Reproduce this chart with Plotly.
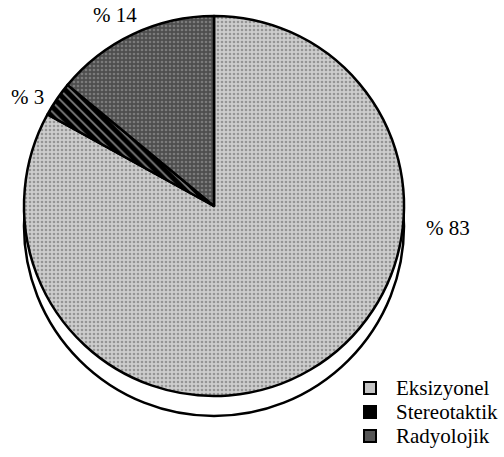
import plotly.graph_objects as go

# Data
labels = ["Eksizyonel", "Stereotaktik", "Radyolojik"]
values = [83, 3, 14]

W, H = 504, 457

def px(x):
    return x / W

def py(y):
    return 1 - y / H

# pie geometry (pixels)
cx, cy, r = 214, 206, 190
shadow_dy = 20

bgcolors = ["#cdcdcd", "#000000", "#4e4e4e"]
fgcolors = ["#5e5e5e", "#ffffff", "#a8a8a8"]
shapes_p = [".", "\\", "."]
sizes = [4, 7, 4]
solid = [0.35, 0.25, 0.35]

fig = go.Figure(go.Pie(
    labels=labels,
    values=values,
    sort=False,
    direction="clockwise",
    rotation=0,
    textinfo="none",
    hoverinfo="label+percent",
    showlegend=False,
    domain=dict(x=[px(cx - r), px(cx + r)], y=[py(cy + r), py(cy - r)]),
    marker=dict(
        colors=bgcolors,
        line=dict(color="black", width=2.5),
        pattern=dict(shape=shapes_p, fgcolor=fgcolors, bgcolor=bgcolors,
                     size=sizes, solidity=solid, fillmode="overlay"),
    ),
))

shapes = [dict(
    type="circle", xref="paper", yref="paper", layer="below",
    x0=px(cx - r), x1=px(cx + r),
    y0=py(cy + r + shadow_dy), y1=py(cy - r + shadow_dy),
    fillcolor="white", line=dict(color="black", width=2.5),
)]

annotations = []
# percent labels
label_pos = [(448, 228), (27, 97), (115, 15)]
for v, (lx, ly) in zip(values, label_pos):
    annotations.append(dict(
        x=px(lx), y=py(ly), xref="paper", yref="paper",
        text=f"% {v}", showarrow=False,
        font=dict(family="Liberation Serif", size=21, color="black"),
        xanchor="center", yanchor="middle",
    ))

# manual legend
leg_x_sw, leg_x_txt = 370, 394
leg_ys = [388, 412, 436]
legend_sw_fill = ["#c4c4c4", "#000000", "#555555"]
for i, lab in enumerate(labels):
    yy = leg_ys[i]
    shapes.append(dict(
        type="rect", xref="paper", yref="paper",
        x0=px(leg_x_sw - 6), x1=px(leg_x_sw + 6),
        y0=py(yy + 6), y1=py(yy - 6),
        fillcolor=legend_sw_fill[i], line=dict(color="black", width=2),
    ))
    annotations.append(dict(
        x=px(leg_x_txt), y=py(yy), xref="paper", yref="paper",
        text=lab, showarrow=False,
        font=dict(family="Liberation Serif", size=21, color="black"),
        xanchor="left", yanchor="middle",
    ))

fig.update_layout(
    width=W, height=H,
    margin=dict(l=0, r=0, t=0, b=0),
    paper_bgcolor="white", plot_bgcolor="white",
    shapes=shapes, annotations=annotations,
)

fig.write_html("out.html", config={"displayModeBar": False})

# remove default page margin so the figure sits at the window's corner
with open("out.html", "r", encoding="utf-8") as f:
    html = f.read()
html = html.replace("<head>", "<head><style>html,body{margin:0;padding:0;overflow:hidden;}</style>", 1)
with open("out.html", "w", encoding="utf-8") as f:
    f.write(html)
